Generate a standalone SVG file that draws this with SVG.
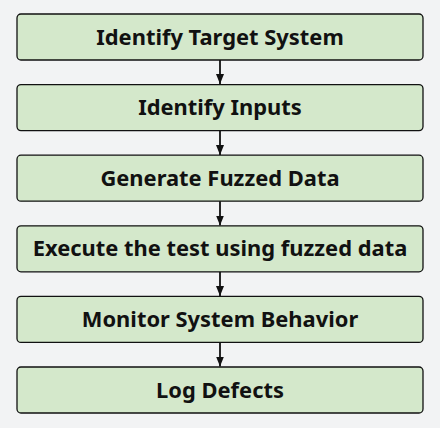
<svg xmlns="http://www.w3.org/2000/svg" width="440" height="428" viewBox="0 0 440 428">
<style>
.box{fill:#d4e8cb;stroke:#111;stroke-width:1.3}
.lbl{font-family:"Noto Sans","Open Sans",sans-serif;font-weight:700;font-size:21.9px;fill:#111;text-anchor:middle}
.edge{stroke:#111;stroke-width:1.8;fill:none}
</style>
<defs>
<marker id="ah" viewBox="0 0 10 8" refX="10" refY="4" markerWidth="10" markerHeight="8" markerUnits="userSpaceOnUse" orient="auto">
<path d="M0,0 L10,4 L0,8 Z" fill="#111"/>
</marker>
</defs>
<rect width="440" height="428" fill="#f2f3f4"/>
<g id="connectors">
<line class="edge" x1="220" y1="60" x2="220" y2="84" marker-end="url(#ah)"/>
<line class="edge" x1="220" y1="130.5" x2="220" y2="155" marker-end="url(#ah)"/>
<line class="edge" x1="220" y1="201" x2="220" y2="225.5" marker-end="url(#ah)"/>
<line class="edge" x1="220" y1="271.5" x2="220" y2="296" marker-end="url(#ah)"/>
<line class="edge" x1="220" y1="342" x2="220" y2="366.5" marker-end="url(#ah)"/>
</g>
<g id="n1"><rect class="box" x="17" y="14" width="406" height="46" rx="4"/><text class="lbl" x="220" y="44.5">Identify Target System</text></g>
<g id="n2"><rect class="box" x="17" y="84.6" width="406" height="46" rx="4"/><text class="lbl" x="220" y="115.1">Identify Inputs</text></g>
<g id="n3"><rect class="box" x="17" y="155.2" width="406" height="46" rx="4"/><text class="lbl" x="220" y="185.7">Generate Fuzzed Data</text></g>
<g id="n4"><rect class="box" x="17" y="225.8" width="406" height="46" rx="4"/><text class="lbl" x="220" y="256.3">Execute the test using fuzzed data</text></g>
<g id="n5"><rect class="box" x="17" y="296.4" width="406" height="46" rx="4"/><text class="lbl" x="220" y="326.9">Monitor System Behavior</text></g>
<g id="n6"><rect class="box" x="17" y="367" width="406" height="46" rx="4"/><text class="lbl" x="220" y="397.5">Log Defects</text></g>
</svg>
